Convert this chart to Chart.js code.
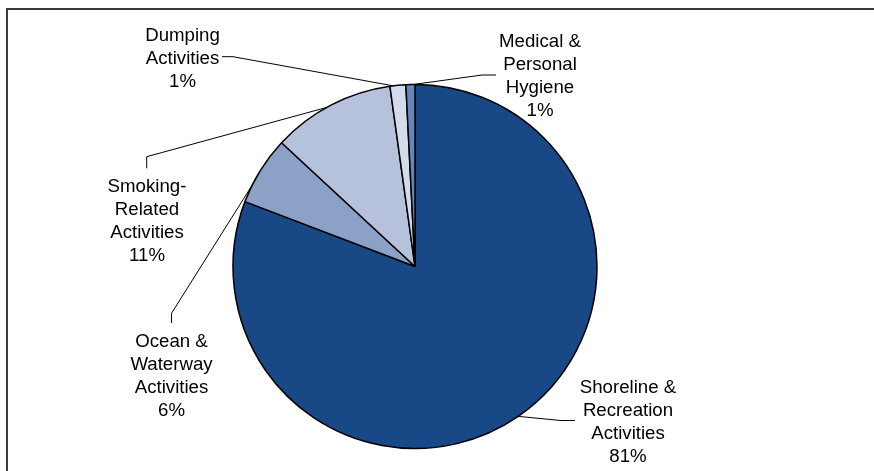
<!DOCTYPE html>
<html>
<head>
<meta charset="utf-8">
<script src="https://cdn.jsdelivr.net/npm/chart.js@4/dist/chart.umd.min.js"></script>
<style>
  html, body { margin: 0; padding: 0; background: #fff; }
  #wrap { width: 874px; height: 471px; position: relative; }
</style>
</head>
<body>
<div id="wrap"><canvas id="c" width="874" height="471"></canvas></div>
<script>
// ---- data ----
const categories = [
  ["Shoreline &", "Recreation", "Activities"],
  ["Ocean &", "Waterway", "Activities"],
  ["Smoking-", "Related", "Activities"],
  ["Dumping", "Activities"],
  ["Medical &", "Personal", "Hygiene"]
];
const values = [80.8, 6.1, 10.9, 1.4, 0.8];
const percentLabels = ["81%", "6%", "11%", "1%", "1%"];
const sliceColors = ["#184886", "#8ba1c5", "#b6c2dc", "#d4dbeb", "#6585bd"];

// ---- label layout (offsets from pie centre, px) ----
const labelPos = [   // centre x offset, first baseline offset
  [213, 126], [-243.5, 80], [-268, -75], [-232.5, -226], [125, -220]
];
const leaderFrac = [0.5, 0.26, 0.46, 0.2, 0.8];   // where along the slice's arc the leader starts
const leaderPts = [  // elbow and end points, offsets from centre
  [[146, 154], [160, 154]],
  [[-243.5, 46.8], [-243.5, 56.5]],
  [[-268.3, -109.8], [-268.3, -98.2]],
  [[-182, -209.8], [-193, -209.8]],
  [[67, -191.5], [81, -191.5]]
];

const labelPlugin = {
  id: 'outerLabels',
  beforeDraw(chart) {
    const ctx = chart.ctx;
    ctx.save();
    ctx.strokeStyle = '#3c3c3c';
    ctx.lineWidth = 2;
    ctx.beginPath();
    ctx.moveTo(7, 480);
    ctx.lineTo(7, 9);
    ctx.lineTo(880, 9);
    ctx.stroke();
    ctx.restore();
  },
  afterDraw(chart) {
    const ctx = chart.ctx;
    const arcs = chart.getDatasetMeta(0).data;
    ctx.save();
    arcs.forEach((arc, i) => {
      const cx = arc.x, cy = arc.y, r = arc.outerRadius;
      const a = arc.startAngle + leaderFrac[i] * (arc.endAngle - arc.startAngle);
      const ax = cx + r * Math.cos(a), ay = cy + r * Math.sin(a);
      ctx.strokeStyle = '#000';
      ctx.lineWidth = 1;
      ctx.beginPath();
      ctx.moveTo(ax, ay);
      leaderPts[i].forEach(p => ctx.lineTo(cx + p[0], cy + p[1]));
      ctx.stroke();

      ctx.fillStyle = '#000';
      ctx.font = '18.67px "Liberation Sans", Arial, sans-serif';
      ctx.textAlign = 'center';
      ctx.textBaseline = 'alphabetic';
      const lines = categories[i].concat([percentLabels[i]]);
      const tx = cx + labelPos[i][0];
      let ty = cy + labelPos[i][1];
      lines.forEach(line => { ctx.fillText(line, tx, ty); ty += 23; });
    });
    ctx.restore();
  }
};

new Chart(document.getElementById('c'), {
  type: 'pie',
  data: {
    labels: categories.map(c => c.join(' ')),
    datasets: [{
      data: values,
      backgroundColor: sliceColors,
      borderColor: '#000',
      borderWidth: 1.5
    }]
  },
  options: {
    responsive: false,
    animation: false,
    events: [],
    radius: 182,
    layout: { padding: { left: 0, right: 44, top: 62, bottom: 0 } },
    plugins: { legend: { display: false }, tooltip: { enabled: false } }
  },
  plugins: [labelPlugin]
});
</script>
</body>
</html>
